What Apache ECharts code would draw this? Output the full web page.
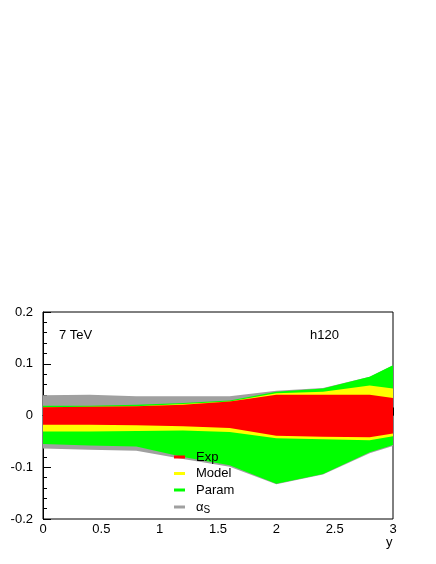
<!DOCTYPE html>
<html>
<head>
<meta charset="utf-8">
<script src="https://cdn.jsdelivr.net/npm/echarts@6/dist/echarts.min.js"></script>
<style>
    html, body { margin: 0; padding: 0; background: #fff; }
    #chart { width: 436px; height: 564px; }
</style>
</head>
<body>
<div id="chart"></div>
<script>
    // rapidity points
    var yPts = [0, 0.4, 0.8, 1.2, 1.6, 2.0, 2.4, 2.8, 3.0];

    // band edges (upper / lower) per uncertainty source
    var greyHi   = [0.039, 0.040, 0.037, 0.037, 0.037, 0.048, 0.053, 0.075, 0.097];
    var greyLo   = [-0.064, -0.066, -0.068, -0.084, -0.099, -0.133, -0.114, -0.073, -0.059];
    var greenHi  = [0.019, 0.019, 0.021, 0.024, 0.029, 0.046, 0.052, 0.075, 0.097];
    var greenLo  = [-0.055, -0.058, -0.060, -0.080, -0.096, -0.132, -0.113, -0.071, -0.057];
    var yellowHi = [0.016, 0.017, 0.018, 0.022, 0.027, 0.043, 0.046, 0.058, 0.052];
    var yellowLo = [-0.031, -0.031, -0.030, -0.029, -0.032, -0.044, -0.046, -0.048, -0.040];
    var redHi    = [0.016, 0.017, 0.018, 0.021, 0.027, 0.040, 0.040, 0.040, 0.034];
    var redLo    = [-0.018, -0.018, -0.019, -0.021, -0.024, -0.039, -0.041, -0.042, -0.035];

    var bands = [
        { name: 'α_S',   color: '#a0a0a0', hi: greyHi,   lo: greyLo },
        { name: 'Param', color: '#00ff00', hi: greenHi,  lo: greenLo },
        { name: 'Model', color: '#ffff00', hi: yellowHi, lo: yellowLo },
        { name: 'Exp',   color: '#ff0000', hi: redHi,    lo: redLo }
    ];

    // each band is one filled polygon: upper edge left->right, lower edge back
    var series = bands.map(function (b) {
        return {
            type: 'custom',
            name: b.name,
            itemStyle: { color: b.color },
            data: yPts.map(function (x, k) { return [x, b.lo[k], b.hi[k]]; }),
            renderItem: function (params, api) {
                if (params.dataIndex !== 0) return null;
                var pts = [];
                for (var k = 0; k < yPts.length; k++) pts.push(api.coord([yPts[k], b.hi[k]]));
                for (var j = yPts.length - 1; j >= 0; j--) pts.push(api.coord([yPts[j], b.lo[j]]));
                return {
                    type: 'polygon',
                    shape: { points: pts },
                    style: { fill: b.color, stroke: null }
                };
            },
            silent: true
        };
    });

    var font = 'Liberation Sans, Arial, sans-serif';
    var chart = echarts.init(document.getElementById('chart'));
    chart.setOption({
        animation: false,
        grid: {
            left: 43, right: 43, top: 312, bottom: 45,
            show: true, borderColor: '#000', borderWidth: 1
        },
        xAxis: {
            type: 'value', min: 0, max: 3, interval: 0.5,
            axisLine: { lineStyle: { color: '#000' } },
            axisTick: { inside: true, length: 8, lineStyle: { color: '#000' } },
            minorTick: { show: true, splitNumber: 5, length: 4, lineStyle: { color: '#000' } },
            splitLine: { show: false },
            axisLabel: { color: '#000', fontSize: 13, fontFamily: font, margin: 4 }
        },
        yAxis: {
            type: 'value', min: -0.2, max: 0.2, interval: 0.1,
            axisLine: { show: true, lineStyle: { color: '#000' } },
            axisTick: { inside: true, length: 8, lineStyle: { color: '#000' } },
            minorTick: { show: true, splitNumber: 5, length: 4, lineStyle: { color: '#000' } },
            splitLine: { show: false },
            axisLabel: {
                color: '#000', fontSize: 13, fontFamily: font, margin: 10,
                formatter: function (v) { return String(Math.round(v * 10) / 10); }
            }
        },
        legend: {
            data: ['Exp', 'Model', 'Param', 'α_S'],
            orient: 'vertical',
            left: 169, top: 444,
            icon: 'rect',
            itemWidth: 11, itemHeight: 3,
            itemGap: 0.5,
            selectedMode: false,
            textStyle: {
                color: '#000', fontSize: 13, fontFamily: font, lineHeight: 16,
                padding: [0, 0, 0, 6],
                rich: {
                    a: { fontSize: 13, fontFamily: font, color: '#000', lineHeight: 16 },
                    s: { fontSize: 10, fontFamily: font, color: '#000', lineHeight: 16, padding: [7, 0, 0, 0] }
                }
            },
            formatter: function (n) {
                return n === 'α_S' ? '{a|α}{s|S}' : n;
            }
        },
        graphic: [
            { type: 'text', left: 59, top: 329, style: { text: '7 TeV', fontSize: 13, fontFamily: font, fill: '#000' } },
            { type: 'text', left: 310, top: 329, style: { text: 'h120', fontSize: 13, fontFamily: font, fill: '#000' } },
            { type: 'text', left: 386, top: 536, style: { text: 'y', fontSize: 13, fontFamily: font, fill: '#000' } }
        ],
        series: series
    });
</script>
</body>
</html>
